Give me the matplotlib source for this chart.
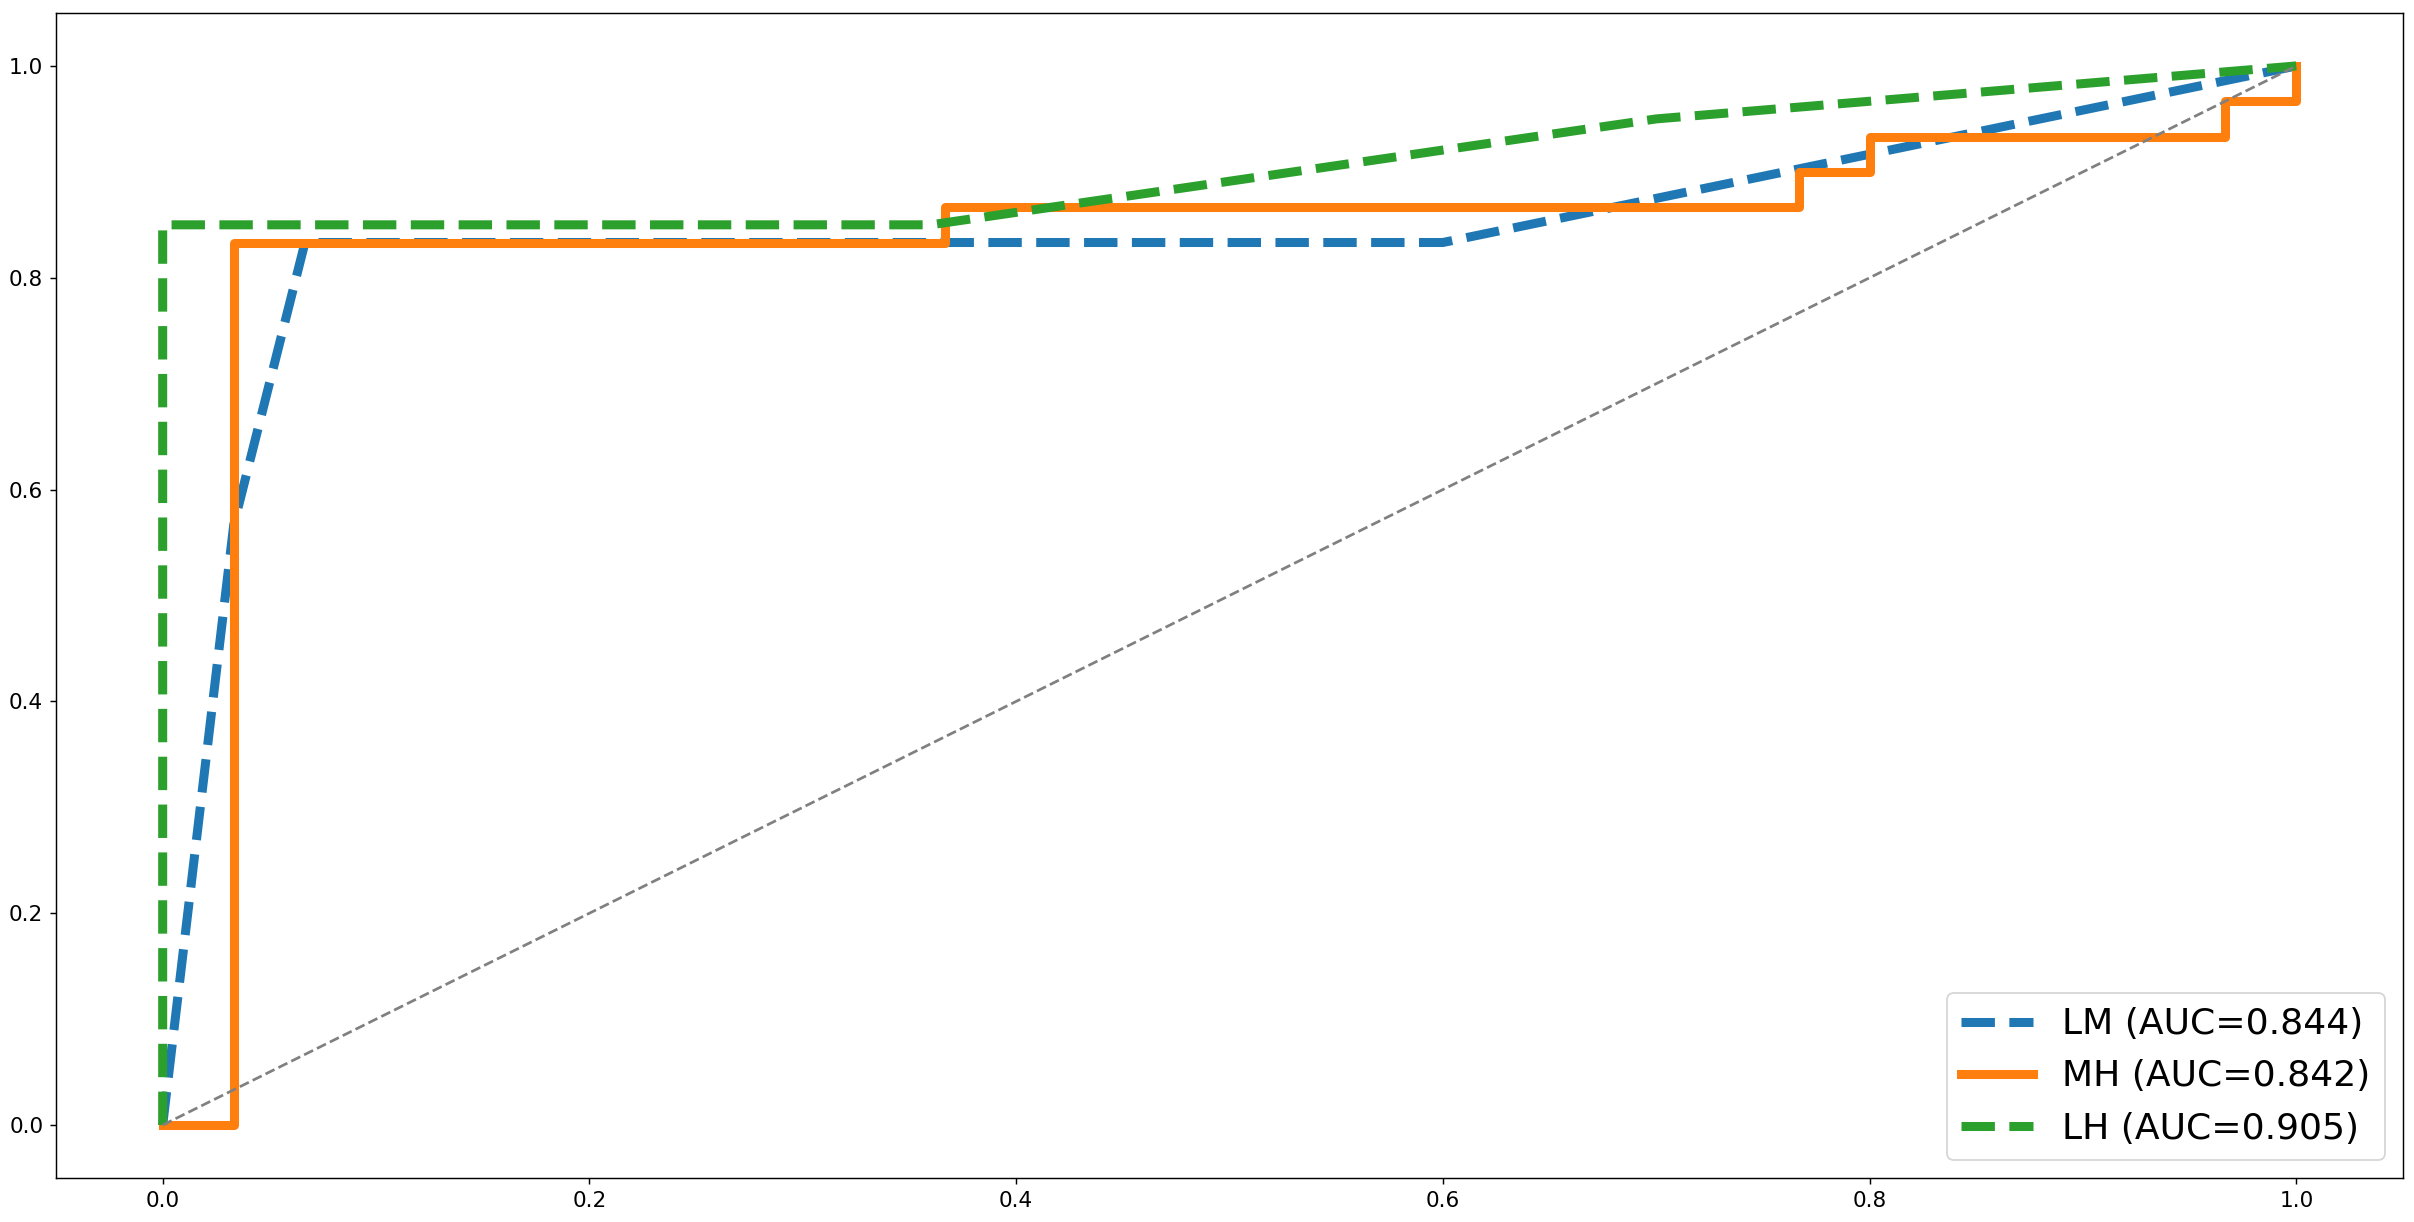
import matplotlib
matplotlib.use('Agg')
import matplotlib.pyplot as plt
import numpy as np

# ROC points (fpr, tpr)
lm_fpr = [0.0, 0.0, 0.0333, 0.0667, 0.6, 1.0]
lm_tpr = [0.0, 0.0, 0.5667, 0.8333, 0.8333, 1.0]
lm_auc = 0.844

mh_fpr = [0.0, 0.0333, 0.0333, 0.3667, 0.3667, 0.7667, 0.7667, 0.8, 0.8, 0.9667, 0.9667, 1.0, 1.0]
mh_tpr = [0.0, 0.0, 0.8333, 0.8333, 0.8667, 0.8667, 0.9, 0.9, 0.9333, 0.9333, 0.9667, 0.9667, 1.0]
mh_auc = 0.842

lh_fpr = [0.0, 0.0, 0.36, 0.7, 1.0]
lh_tpr = [0.0, 0.85, 0.85, 0.95, 1.0]
lh_auc = 0.905

########################################
# figure / axis setup
dpi = 130
fig = plt.figure(figsize=(2414 / dpi, 1222 / dpi), dpi=dpi)
fig.subplots_adjust(left=56 / 2414, right=2403 / 2414, bottom=1 - 1178 / 1222, top=1 - 13 / 1222)
ax = fig.add_subplot(111)

########################################
# plots
ax.plot(lm_fpr, lm_tpr, '--', color='C0', linewidth=5, label='LM (AUC={:.3f})'.format(lm_auc))
ax.plot(mh_fpr, mh_tpr, '-', color='C1', linewidth=5, label='MH (AUC={:.3f})'.format(mh_auc))
ax.plot(lh_fpr, lh_tpr, '--', color='C2', linewidth=5, label='LH (AUC={:.3f})'.format(lh_auc))
ax.plot([0, 1], [0, 1], '--', color='gray', linewidth=1.5)

########################################
# axis settings
ax.tick_params(labelsize=12)
ax.legend(loc='lower right', fontsize=20)

fig.savefig('out.png', dpi=dpi)
